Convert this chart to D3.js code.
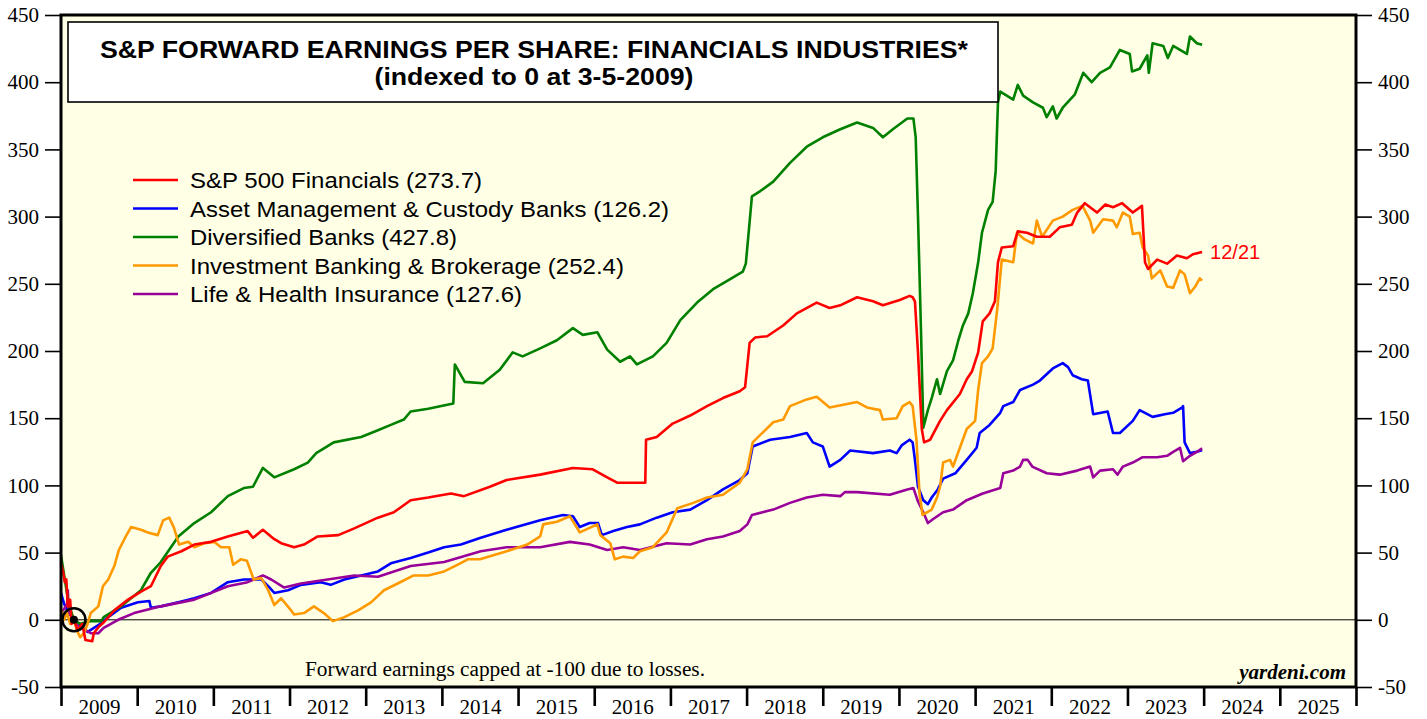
<!DOCTYPE html>
<html><head><meta charset="utf-8">
<script src="https://cdn.jsdelivr.net/npm/d3@7"></script>
<style>body{margin:0;background:#fff;} svg{display:block}</style>
</head><body>
<svg id="chart" width="1427" height="719"></svg>
<script>
// ---------- DATA (decimal year, index value) ----------
const yearLabels = ["2009","2010","2011","2012","2013","2014","2015","2016","2017","2018","2019","2020","2021","2022","2023","2024","2025"];
const yTickValues = [-50,0,50,100,150,200,250,300,350,400,450];
const seriesNames = ["S&P 500 Financials (273.7)","Asset Management & Custody Banks (126.2)","Diversified Banks (427.8)","Investment Banking & Brokerage (252.4)","Life & Health Insurance (127.6)"];
const titleLines = ["S&P FORWARD EARNINGS PER SHARE: FINANCIALS INDUSTRIES*","(indexed to 0 at 3-5-2009)"];
const footNote = "Forward earnings capped at -100 due to losses.";
const sourceNote = "yardeni.com";
const lastDateLabel = "12/21";
const baseDate = [2009.17, 0];

const finData = [[2009.00,42],[2009.03,35],[2009.05,28],[2009.07,30],[2009.09,10],[2009.12,15],[2009.14,-3],[2009.17,0],[2009.22,-8],[2009.28,-3],[2009.32,-15],[2009.41,-16],[2009.43,-10],[2009.50,-5],[2009.56,-2],[2009.70,7],[2009.88,15],[2010.05,21],[2010.18,25],[2010.31,40],[2010.40,47],[2010.58,51],[2010.75,56],[2010.97,58],[2011.19,62],[2011.45,66],[2011.52,61],[2011.65,67],[2011.80,60],[2011.89,57],[2012.06,54],[2012.19,56],[2012.37,62],[2012.64,63],[2012.85,68],[2013.16,76],[2013.37,80],[2013.59,89],[2013.82,91],[2014.12,94],[2014.29,92],[2014.63,99],[2014.85,104],[2015.29,108],[2015.72,113],[2015.98,112],[2016.17,106],[2016.30,102],[2016.67,102],[2016.68,134],[2016.82,136],[2017.03,146],[2017.26,152],[2017.48,159],[2017.69,165],[2017.91,170],[2017.98,173],[2018.04,206],[2018.11,210],[2018.27,211],[2018.48,219],[2018.66,228],[2018.92,236],[2019.09,232],[2019.23,234],[2019.45,240],[2019.66,237],[2019.79,234],[2020.01,238],[2020.14,241],[2020.18,240],[2020.21,237],[2020.25,199],[2020.30,142],[2020.33,132],[2020.41,134],[2020.54,148],[2020.63,156],[2020.80,168],[2020.89,179],[2020.96,185],[2021.04,199],[2021.10,222],[2021.19,228],[2021.26,237],[2021.30,266],[2021.35,277],[2021.50,278],[2021.56,289],[2021.68,288],[2021.81,285],[2021.98,285],[2022.11,292],[2022.27,294],[2022.34,303],[2022.44,310],[2022.60,303],[2022.71,309],[2022.81,307],[2022.93,310],[2023.07,303],[2023.19,308],[2023.23,266],[2023.27,261],[2023.39,268],[2023.52,265],[2023.65,271],[2023.78,269],[2023.86,272],[2023.98,273.7]];

const assetData = [[2009.00,20],[2009.04,12],[2009.09,6],[2009.17,0],[2009.25,-5],[2009.35,-9],[2009.49,-4],[2009.62,2],[2009.79,9],[2010.01,13],[2010.16,14],[2010.18,9],[2010.31,10],[2010.54,13],[2010.75,16],[2010.97,20],[2011.19,28],[2011.40,30],[2011.63,30],[2011.72,25],[2011.80,20],[2011.98,22],[2012.15,26],[2012.41,28],[2012.54,26],[2012.72,30],[2012.94,33],[2013.16,36],[2013.33,42],[2013.59,46],[2013.82,50],[2014.03,54],[2014.25,56],[2014.51,61],[2014.85,67],[2015.29,74],[2015.59,78],[2015.72,77],[2015.81,69],[2015.94,72],[2016.05,72],[2016.10,63],[2016.25,66],[2016.43,69],[2016.60,71],[2016.82,76],[2017.03,80],[2017.26,82],[2017.48,89],[2017.69,97],[2017.91,104],[2018.01,109],[2018.08,129],[2018.31,134],[2018.57,136],[2018.79,139],[2018.87,132],[2019.00,129],[2019.09,114],[2019.23,119],[2019.36,126],[2019.66,124],[2019.88,126],[2019.97,124],[2020.04,130],[2020.14,134],[2020.18,132],[2020.21,119],[2020.25,99],[2020.32,89],[2020.38,86],[2020.43,91],[2020.51,97],[2020.58,105],[2020.74,109],[2020.89,119],[2021.02,128],[2021.06,139],[2021.19,145],[2021.33,154],[2021.37,159],[2021.50,162],[2021.59,171],[2021.76,175],[2021.85,178],[2022.02,187],[2022.15,191],[2022.22,188],[2022.28,182],[2022.40,179],[2022.48,178],[2022.55,153],[2022.74,155],[2022.81,139],[2022.90,139],[2023.07,148],[2023.16,156],[2023.33,151],[2023.49,153],[2023.60,154],[2023.72,158],[2023.73,159],[2023.75,132],[2023.82,124],[2023.91,125],[2023.98,126.2]];

const banksData = [[2009.00,48],[2009.05,30],[2009.10,12],[2009.17,0],[2009.25,-3],[2009.39,-1],[2009.53,-1],[2009.56,2],[2009.79,10],[2010.05,22],[2010.18,35],[2010.31,43],[2010.54,62],[2010.75,72],[2010.97,80],[2011.19,92],[2011.40,98],[2011.52,99],[2011.65,113],[2011.80,106],[2012.06,112],[2012.24,117],[2012.35,124],[2012.58,132],[2012.94,136],[2013.16,141],[2013.33,145],[2013.50,149],[2013.59,155],[2013.82,157],[2014.15,161],[2014.17,190],[2014.30,177],[2014.54,176],[2014.76,186],[2014.93,199],[2015.06,196],[2015.29,202],[2015.51,208],[2015.72,217],[2015.85,212],[2016.04,214],[2016.17,201],[2016.34,192],[2016.47,196],[2016.56,190],[2016.77,196],[2016.95,206],[2017.13,223],[2017.35,236],[2017.56,246],[2017.74,252],[2017.95,259],[2017.99,265],[2018.07,315],[2018.18,319],[2018.35,326],[2018.57,340],[2018.79,352],[2019.00,359],[2019.23,365],[2019.45,370],[2019.66,366],[2019.79,359],[2019.92,365],[2020.11,373],[2020.19,373],[2020.22,359],[2020.25,300],[2020.29,214],[2020.32,143],[2020.38,156],[2020.43,165],[2020.50,179],[2020.54,168],[2020.63,185],[2020.71,193],[2020.78,208],[2020.84,219],[2020.91,228],[2020.97,243],[2021.04,266],[2021.09,288],[2021.17,305],[2021.23,311],[2021.27,334],[2021.30,385],[2021.33,393],[2021.50,387],[2021.56,398],[2021.63,390],[2021.76,385],[2021.89,381],[2021.94,374],[2022.02,382],[2022.07,373],[2022.15,381],[2022.31,391],[2022.42,407],[2022.53,400],[2022.64,407],[2022.77,411],[2022.90,424],[2023.03,421],[2023.06,408],[2023.16,410],[2023.26,420],[2023.28,407],[2023.33,429],[2023.47,427],[2023.53,418],[2023.60,427],[2023.78,421],[2023.82,434],[2023.91,429],[2023.98,427.8]];

const ibData = [[2009.00,8],[2009.04,0],[2009.08,5],[2009.12,-3],[2009.17,0],[2009.21,-8],[2009.25,-13],[2009.30,-10],[2009.35,-3],[2009.39,5],[2009.49,10],[2009.55,25],[2009.62,30],[2009.70,40],[2009.76,52],[2009.85,62],[2009.92,69],[2010.05,67],[2010.14,65],[2010.27,63],[2010.34,74],[2010.42,76],[2010.48,69],[2010.55,56],[2010.67,58],[2010.75,54],[2010.88,57],[2011.01,58],[2011.10,54],[2011.21,54],[2011.26,41],[2011.36,45],[2011.44,44],[2011.53,30],[2011.63,31],[2011.72,22],[2011.80,11],[2011.89,16],[2012.02,7],[2012.06,4],[2012.19,5],[2012.32,10],[2012.45,5],[2012.57,-1],[2012.72,2],[2012.90,7],[2013.07,13],[2013.24,22],[2013.42,27],[2013.63,33],[2013.82,33],[2014.03,36],[2014.21,41],[2014.34,45],[2014.50,45],[2014.85,51],[2015.12,56],[2015.29,62],[2015.33,71],[2015.51,73],[2015.68,77],[2015.81,65],[2016.04,71],[2016.08,63],[2016.21,57],[2016.27,45],[2016.38,47],[2016.51,46],[2016.60,51],[2016.77,54],[2016.95,65],[2017.09,83],[2017.30,87],[2017.48,91],[2017.69,93],[2017.91,102],[2018.01,112],[2018.08,132],[2018.35,147],[2018.48,149],[2018.57,159],[2018.79,164],[2018.92,166],[2019.09,158],[2019.45,162],[2019.58,158],[2019.75,156],[2019.79,149],[2019.97,150],[2020.05,159],[2020.14,162],[2020.18,159],[2020.23,134],[2020.27,94],[2020.31,78],[2020.43,82],[2020.50,91],[2020.54,99],[2020.58,117],[2020.67,119],[2020.71,114],[2020.80,128],[2020.89,142],[2021.00,148],[2021.04,171],[2021.09,191],[2021.17,196],[2021.23,202],[2021.29,231],[2021.35,268],[2021.50,266],[2021.55,288],[2021.65,283],[2021.76,280],[2021.81,297],[2021.88,285],[2022.02,297],[2022.15,300],[2022.28,305],[2022.41,308],[2022.51,297],[2022.55,288],[2022.68,298],[2022.81,297],[2022.86,292],[2022.94,303],[2023.03,300],[2023.07,287],[2023.16,288],[2023.20,277],[2023.27,271],[2023.32,254],[2023.43,260],[2023.52,248],[2023.60,247],[2023.69,260],[2023.75,257],[2023.82,243],[2023.89,248],[2023.95,254],[2023.98,252.4]];

const lifeData = [[2009.00,5],[2009.04,8],[2009.08,12],[2009.09,22],[2009.10,5],[2009.14,3],[2009.17,0],[2009.25,-5],[2009.39,-10],[2009.49,-10],[2009.56,-6],[2009.75,0],[2009.96,5],[2010.31,10],[2010.75,15],[2011.19,25],[2011.45,28],[2011.65,33],[2011.76,30],[2011.93,24],[2012.15,27],[2012.50,30],[2012.85,33],[2013.16,32],[2013.37,36],[2013.59,40],[2014.03,43],[2014.51,51],[2014.85,54],[2015.29,54],[2015.68,58],[2015.94,56],[2016.17,52],[2016.38,54],[2016.60,52],[2016.95,57],[2017.26,56],[2017.48,60],[2017.69,62],[2017.91,66],[2018.01,71],[2018.07,78],[2018.35,82],[2018.57,87],[2018.79,91],[2019.00,93],[2019.23,92],[2019.29,95],[2019.45,95],[2019.88,93],[2020.11,97],[2020.19,98],[2020.25,88],[2020.32,80],[2020.38,72],[2020.45,75],[2020.58,80],[2020.71,82],[2020.89,89],[2021.10,94],[2021.33,98],[2021.37,109],[2021.50,111],[2021.59,114],[2021.63,119],[2021.69,119],[2021.75,114],[2021.94,109],[2022.11,108],[2022.34,111],[2022.51,114],[2022.55,106],[2022.64,111],[2022.81,112],[2022.87,108],[2022.94,114],[2023.07,117],[2023.20,121],[2023.39,121],[2023.52,122],[2023.60,125],[2023.69,128],[2023.73,118],[2023.82,122],[2023.91,125],[2023.98,127.6]];

// ---------- CHART ----------
const svg = d3.select("#chart");
const L = 61, R = 1356, T = 15, B = 687;
const x = d3.scaleLinear().domain([2009, 2026]).range([L, R]);
const y = d3.scaleLinear().domain([-50, 450]).range([B, T]);
const serif = "'Liberation Serif','Times New Roman',serif";
const sans = "'Liberation Sans',Arial,sans-serif";

svg.append("rect").attr("width",1427).attr("height",719).attr("fill","#ffffff");
svg.append("rect").attr("x",L).attr("y",T).attr("width",R-L).attr("height",B-T).attr("fill","#FFFFE6");

// zero line
svg.append("line").attr("x1",L).attr("x2",R).attr("y1",y(0)).attr("y2",y(0)).attr("stroke","#000").attr("stroke-width",1);

// series
const series = [
  {data: assetData, color:"#0000FF"},
  {data: lifeData, color:"#990099"},
  {data: banksData, color:"#008000"},
  {data: ibData, color:"#FF9900"},
  {data: finData, color:"#FF0000"}
];
const line = d3.line().x(d=>x(d[0])).y(d=>y(d[1]));
const gLines = svg.append("g");
series.forEach(s=>{
  gLines.append("path").datum(s.data).attr("d",line).attr("fill","none")
    .attr("stroke",s.color).attr("stroke-width",2.6).attr("stroke-linejoin","round");
});

// base-date marker
svg.append("circle").attr("cx",x(baseDate[0])).attr("cy",y(baseDate[1])).attr("r",11.5)
  .attr("fill","none").attr("stroke","#000").attr("stroke-width",2.5);
svg.append("circle").attr("cx",x(baseDate[0])).attr("cy",y(baseDate[1])).attr("r",4).attr("fill","#000");

// title box
svg.append("rect").attr("x",68).attr("y",22).attr("width",930).attr("height",80)
  .attr("fill","#fff").attr("stroke","#000").attr("stroke-width",1.6);
svg.append("text").attr("x",534).attr("y",58).attr("text-anchor","middle")
  .attr("font-family",sans).attr("font-weight","bold").attr("font-size",24)
  .attr("textLength",868).attr("lengthAdjust","spacingAndGlyphs").text(titleLines[0]);
svg.append("text").attr("x",534).attr("y",85).attr("text-anchor","middle")
  .attr("font-family",sans).attr("font-weight","bold").attr("font-size",24)
  .attr("textLength",319).attr("lengthAdjust","spacingAndGlyphs").text(titleLines[1]);

// legend
const legendColors = ["#FF0000","#0000FF","#008000","#FF9900","#990099"];
const legendWidths = [292,479,267,434,332];
seriesNames.forEach((n,i)=>{
  const yy = 180 + i*28.5;
  svg.append("line").attr("x1",133).attr("x2",178).attr("y1",yy).attr("y2",yy)
    .attr("stroke",legendColors[i]).attr("stroke-width",2.6);
  svg.append("text").attr("x",190).attr("y",yy+8).attr("font-family",sans).attr("font-size",22)
    .attr("textLength",legendWidths[i]).attr("lengthAdjust","spacingAndGlyphs").attr("fill","#000").text(n);
});

// notes
svg.append("text").attr("x",305).attr("y",676).attr("font-family",serif).attr("font-size",20)
  .attr("textLength",400).attr("lengthAdjust","spacingAndGlyphs").text(footNote);
svg.append("text").attr("x",1346).attr("y",679).attr("text-anchor","end").attr("font-family",serif)
  .attr("font-size",21).attr("font-weight","bold").attr("font-style","italic").text(sourceNote);
const last = finData[finData.length-1];
svg.append("text").attr("x",x(last[0])+8).attr("y",y(last[1])+7).attr("font-family",sans)
  .attr("font-size",20).attr("fill","#FF0000").text(lastDateLabel);

// frame
svg.append("rect").attr("x",L).attr("y",T).attr("width",R-L).attr("height",B-T)
  .attr("fill","none").attr("stroke","#000").attr("stroke-width",3);

// axes
const fmt = d => String(d);
const yLeft = svg.append("g").attr("transform",`translate(${L},0)`)
  .call(d3.axisLeft(y).tickValues(yTickValues).tickFormat(fmt).tickSize(16).tickPadding(6));
const yRight = svg.append("g").attr("transform",`translate(${R},0)`)
  .call(d3.axisRight(y).tickValues(yTickValues).tickFormat(fmt).tickSize(16).tickPadding(6));
[yLeft,yRight].forEach(g=>{
  g.select(".domain").remove();
  g.selectAll(".tick line").attr("stroke","#000").attr("stroke-width",1.6);
  g.selectAll(".tick text").attr("font-family",serif).attr("font-size",21).attr("fill","#000");
});

const xTicks = svg.append("g").attr("transform",`translate(0,${B})`)
  .call(d3.axisBottom(x).tickValues(d3.range(2009, 2027)).tickFormat("").tickSize(19));
xTicks.select(".domain").remove();
xTicks.selectAll(".tick line").attr("stroke","#000").attr("stroke-width",2.6);

const xLabels = svg.append("g").attr("transform",`translate(0,${B})`)
  .call(d3.axisBottom(x).tickValues(yearLabels.map(s=>+s+0.5)).tickFormat((d,i)=>yearLabels[i]).tickSize(0).tickPadding(12));
xLabels.select(".domain").remove();
xLabels.selectAll(".tick text").attr("font-family",serif).attr("font-size",21).attr("fill","#000");
</script>
</body></html>
